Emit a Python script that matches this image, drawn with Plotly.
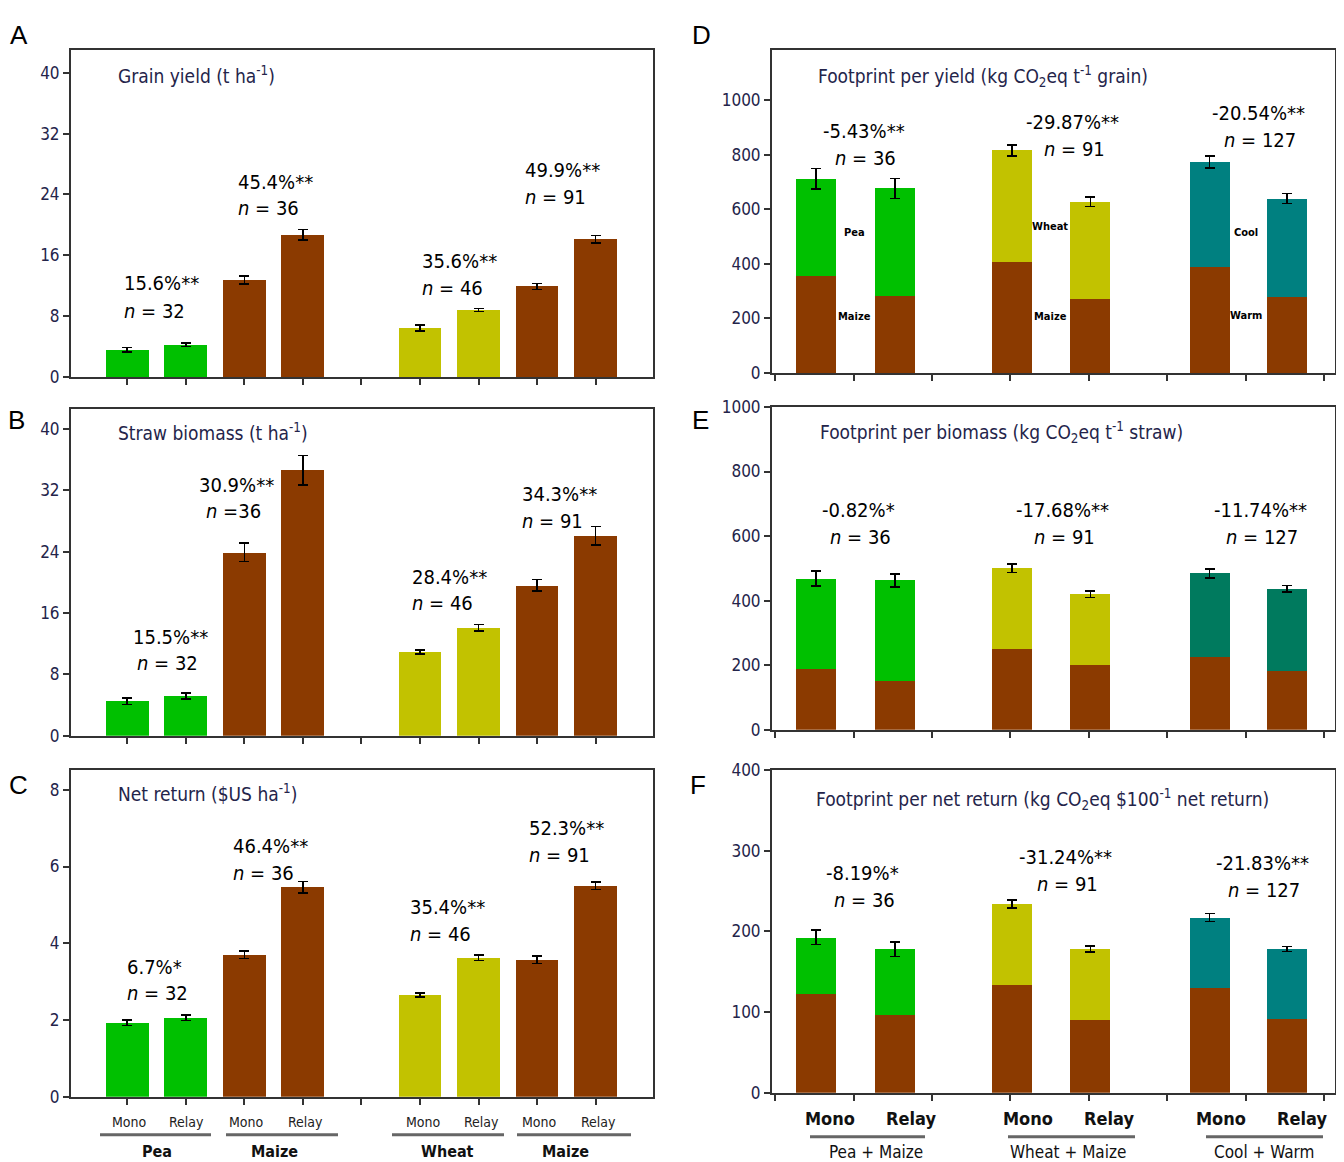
import plotly.graph_objects as go

W, H = 1344, 1162

# ---- left panels (A-C): mono vs relay, per crop ----
crops_left = ["Pea", "Pea", "Maize", "Maize", "Wheat", "Wheat", "Maize", "Maize"]
systems_left = ["Mono", "Relay", "Mono", "Relay", "Mono", "Relay", "Mono", "Relay"]
group_left = ["Pea", "Maize", "Wheat", "Maize"]

grain_yield = [3.58, 4.24, 12.75, 18.7, 6.42, 8.8, 11.9, 18.1]
grain_err = [0.3, 0.25, 0.5, 0.7, 0.4, 0.2, 0.4, 0.5]
straw_biomass = [4.5, 5.2, 23.9, 34.6, 10.9, 14.1, 19.6, 26.1]
straw_err = [0.4, 0.4, 1.2, 1.95, 0.25, 0.4, 0.75, 1.2]
net_return = [1.93, 2.06, 3.70, 5.46, 2.65, 3.62, 3.57, 5.50]
net_err = [0.07, 0.07, 0.1, 0.15, 0.05, 0.07, 0.1, 0.1]

pct_grain = ["15.6%**", "45.4%**", "35.6%**", "49.9%**"]
pct_straw = ["15.5%**", "30.9%**", "28.4%**", "34.3%**"]
pct_return = ["6.7%*", "46.4%**", "35.4%**", "52.3%**"]
n_left = ["32", "36", "46", "91"]

# ---- right panels (D-F): stacked footprints ----
pairs = ["Pea + Maize", "Wheat + Maize", "Cool + Warm"]
systems_right = ["Mono", "Relay", "Mono", "Relay", "Mono", "Relay"]

fp_yield_total = [713, 677, 817, 628, 774, 640]
fp_yield_maize = [357, 284, 406, 272, 390, 278]
fp_yield_err = [37, 37, 20, 18, 22, 18]
fp_biomass_total = [468, 463, 500, 420, 485, 437]
fp_biomass_maize = [189, 152, 252, 200, 226, 183]
fp_biomass_err = [23, 20, 13, 10, 14, 10]
fp_return_total = [192.5, 178, 234, 178, 217, 178]
fp_return_maize = [123, 96, 134, 90, 130, 92]
fp_return_err = [9, 9, 5, 4, 5, 3]

pct_fp_yield = ["-5.43%**", "-29.87%**", "-20.54%**"]
pct_fp_biomass = ["-0.82%*", "-17.68%**", "-11.74%**"]
pct_fp_return = ["-8.19%*", "-31.24%**", "-21.83%**"]
n_right = ["36", "91", "127"]

# colours
GREEN = "#00c000"
BROWN = "#8b3a00"
OLIVE = "#c2c200"
TEAL = "#008080"
TEAL_E = "#007a5e"
NAVY = "#24244a"
NARROW = "Liberation Sans Narrow, DejaVu Sans Condensed, Arial Narrow, Liberation Sans"

left_colors = [GREEN, GREEN, BROWN, BROWN, OLIVE, OLIVE, BROWN, BROWN]
left_x = [1, 2, 3, 4, 6, 7, 8, 9]
right_x = [0.52, 1.53, 3.02, 4.02, 5.54, 6.53]


# pixel -> paper helpers (corrected for the page offset seen in the render)
def fx(p):
    return (p - 8) / W


def fy(p):
    return 1 - ((p - 18) / 0.983) / H


fig = go.Figure()

# panel boxes in pixels: (left, right, top, bottom)
left_boxes = [(71, 653, 50, 377), (71, 653, 409, 736), (71, 653, 770, 1097)]
right_boxes = [(772, 1335, 50, 373), (772, 1335, 407, 730), (772, 1335, 770, 1093)]
left_ranges = [[0, 43], [0, 42.6], [0, 8.52]]
left_ticks = [[0, 8, 16, 24, 32, 40], [0, 8, 16, 24, 32, 40], [0, 2, 4, 6, 8]]
right_ranges = [[0, 1185], [0, 1000], [0, 400]]
right_ticks = [[0, 200, 400, 600, 800, 1000], [0, 200, 400, 600, 800, 1000],
               [0, 100, 200, 300, 400]]

axis_common = dict(showline=True, mirror=True, linecolor="#333333", linewidth=2,
                   ticks="outside", tickcolor="#333333", ticklen=6, tickwidth=1.5,
                   showgrid=False, zeroline=False, fixedrange=True)

layout_axes = {}
for i, (l, r, t, b) in enumerate(left_boxes):
    k = i + 1
    layout_axes["xaxis%d" % k] = dict(domain=[fx(l), fx(r)], range=[0.04, 9.98],
                                      tickvals=[1, 2, 3, 4, 5, 6, 7, 8, 9],
                                      showticklabels=False, anchor="y%d" % k, **axis_common)
    layout_axes["yaxis%d" % k] = dict(domain=[fy(b), fy(t)], range=left_ranges[i],
                                      tickvals=left_ticks[i], anchor="x%d" % k,
                                      tickfont=dict(family=NARROW, size=17, color=NAVY),
                                      **axis_common)
for i, (l, r, t, b) in enumerate(right_boxes):
    k = i + 4
    layout_axes["xaxis%d" % k] = dict(domain=[fx(l), fx(r)], range=[-0.04, 7.14],
                                      tickvals=[0, 1, 2, 3, 4, 5, 6, 7],
                                      showticklabels=False, anchor="y%d" % k, **axis_common)
    layout_axes["yaxis%d" % k] = dict(domain=[fy(b), fy(t)], range=right_ranges[i],
                                      tickvals=right_ticks[i], anchor="x%d" % k,
                                      tickfont=dict(family=NARROW, size=17, color=NAVY),
                                      **axis_common)

err_style = dict(type="data", color="black", thickness=1.6, width=5)

# left bars
for k, (vals, errs) in enumerate([(grain_yield, grain_err), (straw_biomass, straw_err),
                                  (net_return, net_err)], start=1):
    fig.add_trace(go.Bar(
        x=left_x, y=vals, width=0.73, marker=dict(color=left_colors, line_width=0),
        error_y=dict(array=errs, **err_style),
        xaxis="x%d" % k, yaxis="y%d" % k, showlegend=False,
        customdata=[c + " " + s for c, s in zip(crops_left, systems_left)],
        hovertemplate="%{customdata}: %{y}<extra></extra>"))

# right stacked bars
top_colors = [[GREEN, GREEN, OLIVE, OLIVE, TEAL, TEAL],
              [GREEN, GREEN, OLIVE, OLIVE, TEAL_E, TEAL_E],
              [GREEN, GREEN, OLIVE, OLIVE, TEAL, TEAL]]
right_sets = [(fp_yield_total, fp_yield_maize, fp_yield_err),
              (fp_biomass_total, fp_biomass_maize, fp_biomass_err),
              (fp_return_total, fp_return_maize, fp_return_err)]
for i, (tot, mz, err) in enumerate(right_sets):
    k = i + 4
    fig.add_trace(go.Bar(
        x=right_x, y=mz, width=0.51, marker=dict(color=BROWN, line_width=0),
        xaxis="x%d" % k, yaxis="y%d" % k, showlegend=False))
    fig.add_trace(go.Bar(
        x=right_x, y=[a - b for a, b in zip(tot, mz)], base=mz, width=0.51,
        marker=dict(color=top_colors[i], line_width=0),
        error_y=dict(array=err, **err_style),
        xaxis="x%d" % k, yaxis="y%d" % k, showlegend=False))

ann = []


def text(x, y, s, size=20, color="black", family=NARROW, xanchor="left", yanchor="middle"):
    ann.append(dict(x=fx(x), y=fy(y), xref="paper", yref="paper", text=s,
                    showarrow=False, xanchor=xanchor, yanchor=yanchor,
                    font=dict(family=family, size=size, color=color)))


# panel letters
for lab, (x, y) in zip("ABCDEF", [(8, 18), (6, 420), (7, 785),
                                   (690, 18), (690, 420), (688, 785)]):
    if y < 30:
        text(x, y, lab, size=26, family="Liberation Sans, Arial", yanchor="top")
    else:
        text(x, y, lab, size=26, family="Liberation Sans, Arial")

# panel titles
text(116, 75, "Grain yield (t ha<sup>-1</sup>)", size=19, color=NAVY)
text(116, 432, "Straw biomass (t ha<sup>-1</sup>)", size=19, color=NAVY)
text(116, 793, "Net return ($US ha<sup>-1</sup>)", size=19, color=NAVY)
text(816, 77, "Footprint per yield (kg CO<sub>2</sub>eq t<sup>-1</sup> grain)", size=19, color=NAVY)
text(818, 433, "Footprint per biomass (kg CO<sub>2</sub>eq t<sup>-1</sup> straw)", size=19, color=NAVY)
text(814, 800, "Footprint per net return (kg CO<sub>2</sub>eq $100<sup>-1</sup> net return)",
     size=19, color=NAVY)

# percentage labels, left panels
left_pos = [[(122, 283), (236, 182), (420, 261), (523, 170)],
            [(131, 637), (197, 485), (410, 577), (520, 494)],
            [(125, 967), (231, 846), (408, 907), (527, 828)]]
left_n_pos = [[(122, 311), (236, 208), (420, 288), (523, 197)],
              [(135, 663), (204, 511), (410, 603), (520, 521)],
              [(125, 993), (231, 873), (408, 934), (527, 855)]]
for p, pcts in enumerate([pct_grain, pct_straw, pct_return]):
    for j in range(4):
        text(*left_pos[p][j], pcts[j])
        eq = " =" if (p == 1 and j == 1) else " = "
        text(*left_n_pos[p][j], "<i>n</i>" + eq + n_left[j])

# percentage labels, right panels
right_pos = [[(864, 131), (1072, 122), (1258, 113)],
             [(858, 510), (1062, 510), (1260, 510)],
             [(862, 873), (1065, 857), (1262, 863)]]
for p, pcts in enumerate([pct_fp_yield, pct_fp_biomass, pct_fp_return]):
    for j in range(3):
        x, y = right_pos[p][j]
        text(x, y, pcts[j], xanchor="center")
        text(x + 2, y + 27, "<i>n</i> = " + n_right[j], xanchor="center")

# inline component labels in D
for s, (x, y) in zip(["<b>Pea</b>", "<b>Maize</b>", "<b>Wheat</b>", "<b>Maize</b>",
                      "<b>Cool</b>", "<b>Warm</b>"],
                     [(854, 233), (854, 317), (1050, 227), (1050, 317), (1246, 233), (1246, 316)]):
    text(x, y, s, size=11, xanchor="center")

# bottom category labels, left
left_sys_px = [129, 186, 246, 305, 423, 481, 539, 598]
for s, x in zip(systems_left, left_sys_px):
    text(x, 1122, s, size=14, color="#222222", xanchor="center")
left_group_px = [157, 274, 447, 565]
for s, x in zip(group_left, left_group_px):
    text(x, 1152, "<b>" + s + "</b>", size=16, color="#111111", xanchor="center")

right_sys_px = [830, 911, 1028, 1109, 1221, 1302]
for s, x in zip(systems_right, right_sys_px):
    text(x, 1119, "<b>" + s + "</b>", size=18, color="#111111", xanchor="center")
right_group_px = [876, 1068, 1264]
for s, x in zip(pairs, right_group_px):
    text(x, 1152, s, size=17, color="#111111", xanchor="center")

shapes = []
for x0, x1 in [(100, 211), (226, 338), (392, 504), (517, 631)]:
    shapes.append(dict(type="line", xref="paper", yref="paper", x0=fx(x0), x1=fx(x1),
                       y0=fy(1135), y1=fy(1135), line=dict(color="#666666", width=3)))
for x0, x1 in [(810, 925), (1008, 1135), (1206, 1323)]:
    shapes.append(dict(type="line", xref="paper", yref="paper", x0=fx(x0), x1=fx(x1),
                       y0=fy(1137), y1=fy(1137), line=dict(color="#666666", width=3)))

fig.update_layout(
    width=W, height=H, autosize=False,
    margin=dict(l=0, r=0, t=0, b=0),
    paper_bgcolor="white", plot_bgcolor="white",
    barmode="overlay", bargap=0,
    annotations=ann, shapes=shapes,
    **layout_axes,
)

fig.write_html("out.html")
